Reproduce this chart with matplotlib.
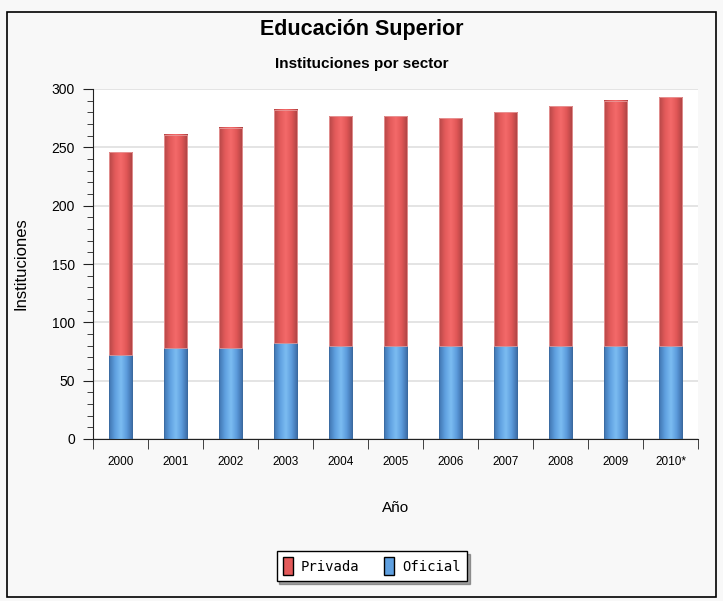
import numpy as np
import matplotlib
matplotlib.use("Agg")
import matplotlib.pyplot as plt
from matplotlib.patches import Rectangle, Patch
from matplotlib.colors import LinearSegmentedColormap
from matplotlib.ticker import MultipleLocator

years = ["2000", "2001", "2002", "2003", "2004", "2005",
         "2006", "2007", "2008", "2009", "2010*"]
totales = [246, 261, 267, 282, 277, 277, 275, 280, 285, 290, 293]
oficial = [72, 78, 78, 82, 80, 80, 80, 80, 80, 80, 80]
privada = [t - o for t, o in zip(totales, oficial)]

sans = ["Liberation Sans", "DejaVu Sans"]

red_cmap = LinearSegmentedColormap.from_list(
    "rojo", ["#b54848", "#e35a5a", "#f46a6a", "#e05656", "#a94242"])
blue_cmap = LinearSegmentedColormap.from_list(
    "azul", ["#3f74b0", "#5fa0e0", "#7cbdf2", "#5b9adb", "#3a69a2"])


def shaded_bars(ax, x, heights, bottoms, width, cmap, edge):
    grad = np.linspace(0, 1, 64).reshape(1, -1)
    for xi, h, b in zip(x, heights, bottoms):
        ax.imshow(grad, cmap=cmap, aspect="auto", interpolation="bicubic",
                  extent=(xi - width / 2, xi + width / 2, b, b + h), zorder=2)
        ax.bar(xi, h, width, bottom=b, facecolor="none",
               edgecolor=edge, linewidth=0.6, zorder=3)


fig = plt.figure(figsize=(7.23, 6.01), dpi=100, facecolor="#f8f8f8")
fig.patches.append(Rectangle((7 / 723, 4 / 601), 709 / 723, 585 / 601,
                             transform=fig.transFigure, fill=False,
                             edgecolor="black", linewidth=1.2))

ax = fig.add_axes([93 / 723, 162 / 601, 605 / 723, 350 / 601])
ax.set_facecolor("white")

x = np.arange(len(years))
w = 0.42
shaded_bars(ax, x, oficial, [0] * len(x), w, blue_cmap, "#3a6aa0")
shaded_bars(ax, x, privada, oficial, w, red_cmap, "#e89a9a")

ax.set_xlim(-0.5, len(years) - 0.5)
ax.set_ylim(0, 300)
ax.yaxis.set_major_locator(MultipleLocator(50))
ax.yaxis.set_minor_locator(MultipleLocator(10))
ax.grid(axis="y", color="#e2e2e2", linewidth=1.3, zorder=0)
ax.set_axisbelow(True)

for side in ["top", "right"]:
    ax.spines[side].set_visible(False)
ax.spines["left"].set_color("#222222")
ax.spines["bottom"].set_color("#222222")

ax.set_xticks(x)
ax.set_xticklabels(years, fontfamily=sans, fontsize=8.5)
ax.tick_params(axis="x", length=0, pad=12)
ax.set_xticks(np.arange(-0.5, len(years)), minor=True)
ax.tick_params(axis="x", which="minor", length=7, direction="out",
               color="#222222")
ax.tick_params(axis="y", which="major", length=7, labelsize=10,
               color="#222222", pad=6)
ax.tick_params(axis="y", which="minor", length=4, color="#222222")
for lbl in ax.get_yticklabels():
    lbl.set_fontfamily(sans)

ax.set_xlabel("Año", fontfamily=sans, fontsize=11, labelpad=24)
ax.set_ylabel("Instituciones", fontfamily=sans, fontsize=12)
ax.yaxis.set_label_coords(-64 / 605, 0.5)

fig.text(0.5, 1 - 30 / 601, "Educación Superior", ha="center", va="center",
         fontfamily=sans, fontsize=15.5, fontweight="bold")
fig.text(0.5, 1 - 64 / 601, "Instituciones por sector", ha="center",
         va="center", fontfamily=sans, fontsize=11, fontweight="bold")

handles = [Patch(facecolor="#e35a5a", edgecolor="black", label="Privada"),
           Patch(facecolor="#5fa0e0", edgecolor="black", label="Oficial")]
leg = fig.legend(handles=handles, loc="center", ncol=2,
                 bbox_to_anchor=(372 / 723, 1 - 566 / 601),
                 prop={"family": "DejaVu Sans Mono", "size": 10},
                 frameon=True, fancybox=False, shadow=True,
                 handlelength=0.7, handleheight=1.6, columnspacing=1.8,
                 handletextpad=0.6, borderpad=0.45)
leg.get_frame().set_edgecolor("black")
leg.get_frame().set_linewidth(1.0)

fig.savefig("out.png", dpi=100, facecolor=fig.get_facecolor())
